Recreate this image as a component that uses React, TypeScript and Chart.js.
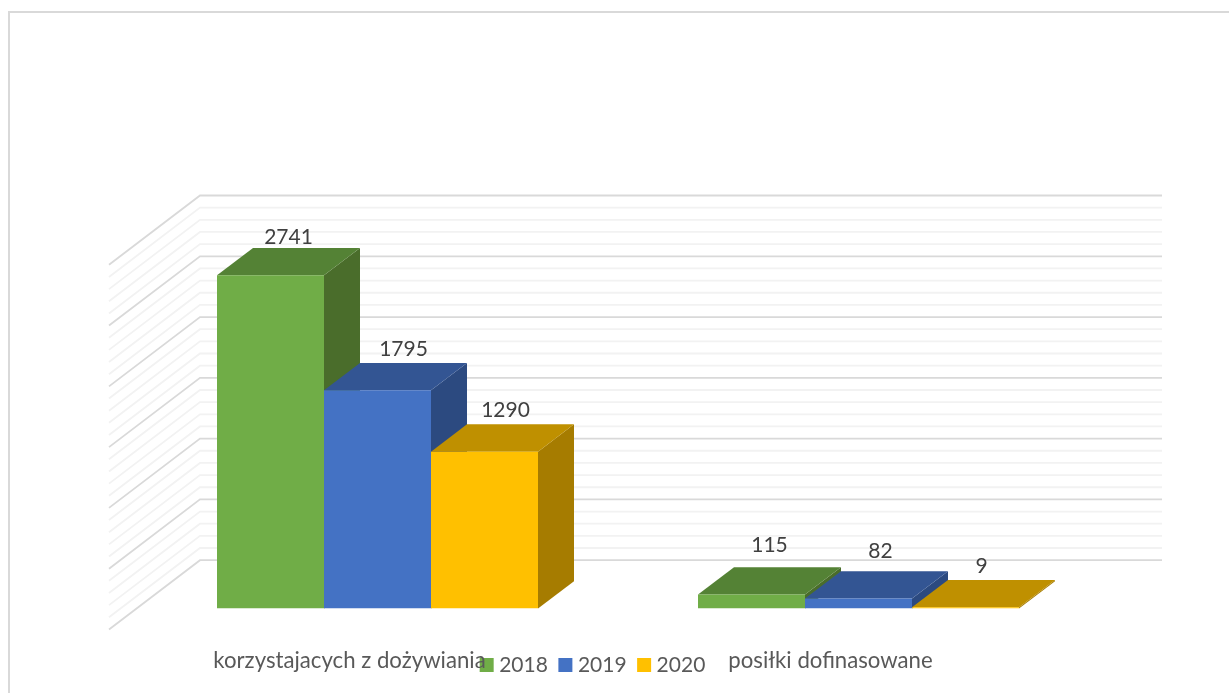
import React, { useEffect, useRef } from "react";
import { Chart, registerables } from "chart.js";

Chart.register(...registerables);

const categories = ["korzystajacych z dożywiania", "posiłki dofinasowane"];
const seriesNames = ["2018", "2019", "2020"];
const values2018 = [2741, 115];
const values2019 = [1795, 82];
const values2020 = [1290, 9];
const frontColors = ["#70ad47", "#4472c4", "#ffc000"];
const topColors = ["#548235", "#335593", "#bf9000"];
const sideColors = ["#4a6d2b", "#2c4a80", "#a67c00"];

const W = 1229;
const H = 693;
const FONT = "Lato";
// oblique projection of the 3-D box
const BAR_DX = 36;
const BAR_DY = -27.3;
const WALL_DX = 63;
const WALL_DY = -48.3;
const FLOOR_DX = -28;
const FLOOR_DY = 21;
// hand-placed label nudges of the original: [dataset][category] => [dx, dy]
const LABEL_NUDGE = [
  [[0, -11], [0, -22]],
  [[8, -14], [4, -20]],
  [[3, -14], [-2, -14]],
];

const poly = (ctx: CanvasRenderingContext2D, pts: number[][], fill: string) => {
  ctx.beginPath();
  pts.forEach(([x, y], i) => (i ? ctx.lineTo(x, y) : ctx.moveTo(x, y)));
  ctx.closePath();
  ctx.fillStyle = fill;
  ctx.fill();
};

const scenePlugin = {
  id: "scene3d",
  afterLayout(chart: any) {
    const lg = chart.legend;
    if (lg) {
      const h = lg.bottom - lg.top;
      lg.top = 639;
      lg.bottom = lg.top + h;
      lg.left -= 23;
      lg.right -= 23;
    }
  },
  beforeDatasetsDraw(chart: any) {
    const { ctx } = chart;
    const xs = chart.scales.x;
    const ys = chart.scales.y;
    ctx.save();
    // page frame
    ctx.strokeStyle = "#d9d9d9";
    ctx.lineWidth = 2;
    ctx.beginPath();
    ctx.moveTo(9, H);
    ctx.lineTo(9, 12);
    ctx.lineTo(W, 12);
    ctx.stroke();
    // walls: one bent line per tick
    const ticks = [...ys.ticks].sort(
      (a: any, b: any) => Number(a.value % 500 === 0) - Number(b.value % 500 === 0)
    );
    ticks.forEach((t: any) => {
      const y = ys.getPixelForValue(t.value);
      const major = t.value % 500 === 0;
      ctx.strokeStyle = major ? "#d9d9d9" : "#f2f2f2";
      ctx.lineWidth = 1.8;
      ctx.beginPath();
      ctx.moveTo(xs.left + FLOOR_DX, y + FLOOR_DY);
      ctx.lineTo(xs.left + WALL_DX, y + WALL_DY);
      ctx.lineTo(xs.right + WALL_DX, y + WALL_DY);
      ctx.stroke();
    });
    // 3-D faces of each bar, left to right
    for (let c = 0; c < categories.length; c++) {
      for (let d = 0; d < chart.data.datasets.length; d++) {
        const el = chart.getDatasetMeta(d).data[c];
        const l = el.x - el.width / 2;
        const r = el.x + el.width / 2;
        const top = el.y;
        const base = el.base;
        poly(ctx, [[r, top], [r + BAR_DX, top + BAR_DY], [r + BAR_DX, base + BAR_DY], [r, base]], sideColors[d]);
        poly(ctx, [[l, top], [l + BAR_DX, top + BAR_DY], [r + BAR_DX, top + BAR_DY], [r, top]], topColors[d]);
      }
    }
    ctx.restore();
  },
  afterDatasetsDraw(chart: any) {
    const { ctx } = chart;
    ctx.save();
    ctx.font = `21px ${FONT}`;
    ctx.fillStyle = "#404040";
    ctx.textAlign = "center";
    ctx.textBaseline = "middle";
    chart.data.datasets.forEach((ds: any, d: number) => {
      chart.getDatasetMeta(d).data.forEach((el: any, c: number) => {
        const [nx, ny] = LABEL_NUDGE[d][c];
        ctx.fillText(String(ds.data[c]), el.x + BAR_DX / 2 + nx, el.y + BAR_DY + ny);
      });
    });
    ctx.restore();
  },
};

export default function App() {
  const ref = useRef<HTMLCanvasElement>(null);
  useEffect(() => {
    const all = [values2018, values2019, values2020];
    const chart = new Chart(ref.current as HTMLCanvasElement, {
      type: "bar",
      data: {
        labels: categories,
        datasets: seriesNames.map((name, i) => ({
          label: name,
          data: all[i],
          backgroundColor: frontColors[i],
          borderWidth: 0,
          barPercentage: 1,
          categoryPercentage: 321 / 481,
        })),
      },
      options: {
        responsive: false,
        animation: false,
        devicePixelRatio: 1,
        events: [],
        layout: { padding: { left: 137, right: 130, top: 243.8, bottom: -58.6 } },
        scales: {
          x: {
            grid: { display: false },
            border: { display: false },
            ticks: {
              padding: 31,
              labelOffset: FLOOR_DX,
              color: "#595959",
              font: { family: FONT, size: 22.2 },
              maxRotation: 0,
            },
          },
          y: {
            min: 0,
            max: 3000,
            afterFit: (s: any) => {
              s.width = 0;
            },
            grid: { display: false },
            border: { display: false },
            ticks: { stepSize: 100, display: false },
          },
        },
        plugins: {
          title: { display: false },
          tooltip: { enabled: false },
          legend: {
            display: true,
            position: "bottom",
            padding: 0,
            labels: {
              usePointStyle: true,
              pointStyle: "rect",
              boxWidth: 4,
              boxHeight: 14,
              padding: 15.5,
              color: "#595959",
              font: { family: FONT, size: 21 },
            },
          },
        },
      } as any,
      plugins: [scenePlugin],
    });
    return () => chart.destroy();
  }, []);
  return (
    <div style={{ position: "absolute", left: 0, top: 0, width: W, height: H, background: "#fff" }}>
      <canvas ref={ref} width={W} height={H} style={{ display: "block" }} />
    </div>
  );
}
